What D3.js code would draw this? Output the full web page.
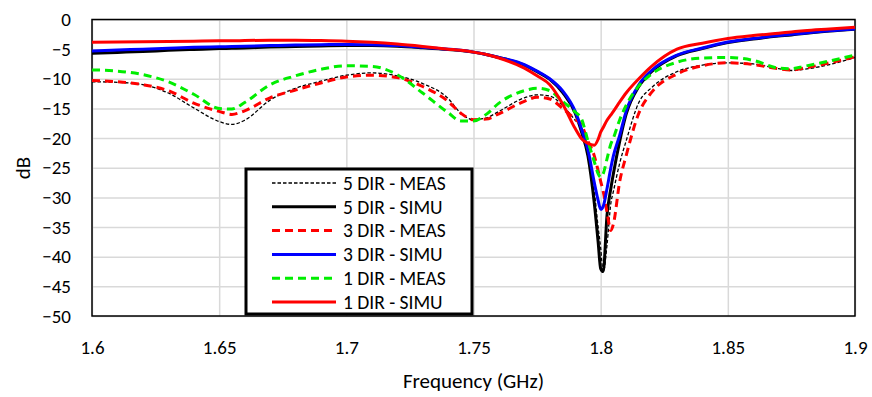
<!DOCTYPE html>
<html>
<head>
<meta charset="utf-8">
<script src="https://cdn.jsdelivr.net/npm/d3@7"></script>
<style>
  html, body { margin: 0; padding: 0; background: #fff; }
  svg text { font-family: Carlito, Calibri, Lato, "Open Sans", sans-serif; fill: #000; }
</style>
</head>
<body>
<div id="chart"></div>
<script>
// frequency grid (GHz), finer around the 1.8 GHz notch
const freq = [1.6, 1.61, 1.62, 1.63, 1.64, 1.65, 1.655, 1.66, 1.67, 1.68, 1.69, 1.70, 1.71, 1.72, 1.73, 1.74,
  1.745, 1.75, 1.755, 1.76, 1.77, 1.775, 1.78, 1.785, 1.79, 1.7925, 1.795, 1.7975, 1.799, 1.8, 1.801, 1.8025,
  1.804, 1.805, 1.8075, 1.81, 1.815, 1.82, 1.83, 1.84, 1.85, 1.86, 1.87, 1.875, 1.88, 1.89, 1.9];

const dir5Meas = [-10.5, -10.6, -11.0, -12.4, -14.9, -17.2, -17.7, -17.0, -13.6, -11.6, -10.4, -9.4, -9.0, -9.5, -10.8, -13.3,
  -15.8, -16.9, -16.6, -15.5, -13.2, -12.7, -12.9, -14.5, -17.0, -18.3, -23.0, -29.0, -35.0, -38.5, -42.6, -38.0,
  -31.0, -29.0, -24.2, -20.5, -14.0, -11.5, -8.8, -7.7, -7.3, -7.5, -8.3, -8.6, -8.4, -7.6, -6.4];

const dir5Simu = [-5.7, -5.55, -5.4, -5.2, -5.05, -4.9, -4.85, -4.8, -4.65, -4.55, -4.45, -4.4, -4.4, -4.5, -4.75, -5.05,
  -5.25, -5.5, -5.9, -6.4, -7.7, -8.8, -10.1, -12.3, -15.8, -19.0, -23.0, -31.0, -37.5, -42.0, -42.5, -33.0,
  -28.5, -26.0, -20.5, -16.0, -11.3, -8.8, -6.1, -4.9, -3.9, -3.3, -2.8, -2.6, -2.35, -1.95, -1.65];

const dir3Meas = [-10.3, -10.5, -11.0, -12.0, -14.1, -15.5, -16.0, -15.4, -13.2, -11.9, -10.7, -9.7, -9.4, -9.8, -11.3, -13.8,
  -15.8, -16.9, -16.8, -15.9, -13.8, -13.1, -13.4, -15.0, -16.8, -17.8, -20.5, -23.0, -25.5, -27.3, -29.0, -32.5,
  -35.6, -34.5, -27.3, -23.0, -15.8, -12.3, -9.2, -7.8, -7.3, -7.6, -8.3, -8.5, -8.2, -7.3, -6.3];

const dir3Simu = [-5.3, -5.15, -5.0, -4.85, -4.7, -4.6, -4.55, -4.5, -4.4, -4.3, -4.25, -4.2, -4.25, -4.4, -4.7, -5.0,
  -5.2, -5.5, -5.9, -6.4, -7.6, -8.7, -10.0, -12.0, -15.5, -18.5, -22.0, -27.5, -30.5, -32.0, -31.5, -28.5,
  -25.0, -23.0, -19.5, -15.5, -11.0, -8.6, -6.0, -4.8, -3.8, -3.2, -2.7, -2.5, -2.3, -1.9, -1.6];

const dir1Meas = [-8.5, -8.7, -9.3, -10.5, -12.6, -15.0, -15.1, -14.0, -11.0, -9.5, -8.4, -7.8, -7.9, -9.3, -12.4, -15.7,
  -17.1, -17.1, -16.0, -14.1, -12.0, -11.6, -12.0, -13.8, -15.6, -16.8, -20.5, -24.0, -26.0, -26.6, -26.0, -23.5,
  -21.0, -20.0, -16.9, -14.5, -11.2, -9.2, -7.2, -6.5, -6.4, -6.9, -8.2, -8.3, -7.9, -7.0, -6.0];

const dir1Simu = [-3.85, -3.8, -3.75, -3.7, -3.65, -3.6, -3.6, -3.55, -3.5, -3.5, -3.55, -3.65, -3.85, -4.15, -4.55, -5.0,
  -5.2, -5.5, -5.9, -6.5, -8.2, -9.5, -11.0, -14.2, -18.4, -20.1, -20.9, -21.2, -20.2, -19.0, -18.2, -17.0,
  -16.1, -15.5, -13.9, -12.4, -10.0, -7.9, -5.0, -4.0, -3.2, -2.7, -2.3, -2.1, -1.9, -1.6, -1.3];

const xTicks = [1.6, 1.65, 1.7, 1.75, 1.8, 1.85, 1.9];
const yTicks = [0, -5, -10, -15, -20, -25, -30, -35, -40, -45, -50];

const seriesNames = ["5 DIR - MEAS", "5 DIR - SIMU", "3 DIR - MEAS", "3 DIR - SIMU", "1 DIR - MEAS", "1 DIR - SIMU"];
const seriesValues = [dir5Meas, dir5Simu, dir3Meas, dir3Simu, dir1Meas, dir1Simu];
const seriesStyle = [
  { color: "#000000", width: 1.3, dash: "3.5,2" },
  { color: "#000000", width: 3, dash: null },
  { color: "#ff0000", width: 3, dash: "8,5" },
  { color: "#0000ff", width: 3, dash: null },
  { color: "#00ee00", width: 3, dash: "8,5" },
  { color: "#ff0000", width: 3, dash: null }
];

const W = 872, H = 397;
const margin = { top: 19.5, right: 17, bottom: 81, left: 92 };
const width = W - margin.left - margin.right;
const height = H - margin.top - margin.bottom;
const fontStack = "Carlito, Calibri, Lato, sans-serif";

const svg = d3.select("#chart").append("svg")
  .attr("width", W)
  .attr("height", H);

const g = svg.append("g").attr("transform", `translate(${margin.left},${margin.top})`);

const x = d3.scaleLinear().domain([1.6, 1.9]).range([0, width]);
const y = d3.scaleLinear().domain([-50, 0]).range([height, 0]);

// gridlines
g.append("g")
  .attr("transform", `translate(0,${height})`)
  .call(d3.axisBottom(x).tickValues(xTicks).tickSize(-height).tickFormat(() => ""))
  .call(s => s.select(".domain").remove())
  .call(s => s.selectAll("line").attr("stroke", "#d9d9d9").attr("stroke-width", 1.5));

g.append("g")
  .call(d3.axisLeft(y).tickValues(yTicks).tickSize(-width).tickFormat(() => ""))
  .call(s => s.select(".domain").remove())
  .call(s => s.selectAll("line").attr("stroke", "#d9d9d9").attr("stroke-width", 1.5));

// tick labels
g.append("g")
  .attr("transform", `translate(0,${height})`)
  .call(d3.axisBottom(x).tickValues(xTicks).tickSize(0).tickPadding(25).tickFormat(d3.format("")))
  .call(s => s.select(".domain").remove())
  .call(s => s.selectAll("text").attr("font-size", "19px").style("font-family", fontStack));

g.append("g")
  .call(d3.axisLeft(y).tickValues(yTicks).tickSize(0).tickPadding(21))
  .call(s => s.select(".domain").remove())
  .call(s => s.selectAll("text").attr("font-size", "19px").style("font-family", fontStack));

// plot frame
g.append("rect")
  .attr("width", width)
  .attr("height", height)
  .attr("fill", "none")
  .attr("stroke", "#000")
  .attr("stroke-width", 1.5);

// curves
const line = d3.line()
  .x((d, i) => x(freq[i]))
  .y(d => y(d))
  .curve(d3.curveMonotoneX);

g.append("clipPath").attr("id", "plotclip")
  .append("rect").attr("width", width).attr("height", height);

const curves = g.append("g").attr("clip-path", "url(#plotclip)");
seriesValues.forEach((vals, k) => {
  const st = seriesStyle[k];
  curves.append("path")
    .datum(vals)
    .attr("fill", "none")
    .attr("stroke", st.color)
    .attr("stroke-width", st.width)
    .attr("stroke-dasharray", st.dash)
    .attr("stroke-linejoin", "round")
    .attr("d", line);
});

// legend
const legend = svg.append("g").attr("transform", "translate(246,169)");
legend.append("rect")
  .attr("width", 226)
  .attr("height", 145)
  .attr("fill", "#fff")
  .attr("stroke", "#000")
  .attr("stroke-width", 3);

seriesNames.forEach((name, k) => {
  const st = seriesStyle[k];
  const ly = 14 + k * 23.8;
  legend.append("line")
    .attr("x1", 26).attr("x2", 90)
    .attr("y1", ly).attr("y2", ly)
    .attr("stroke", st.color)
    .attr("stroke-width", st.width)
    .attr("stroke-dasharray", st.dash);
  legend.append("text")
    .attr("x", 97)
    .attr("y", ly)
    .attr("dy", "0.35em")
    .attr("font-size", "19.5px")
    .text(name);
});

// axis titles
svg.append("text")
  .attr("x", margin.left + width / 2)
  .attr("y", 388)
  .attr("text-anchor", "middle")
  .attr("font-size", "21px")
  .text("Frequency (GHz)");

svg.append("text")
  .attr("transform", "translate(30,168) rotate(-90)")
  .attr("text-anchor", "middle")
  .attr("font-size", "21px")
  .text("dB");
</script>
</body>
</html>
